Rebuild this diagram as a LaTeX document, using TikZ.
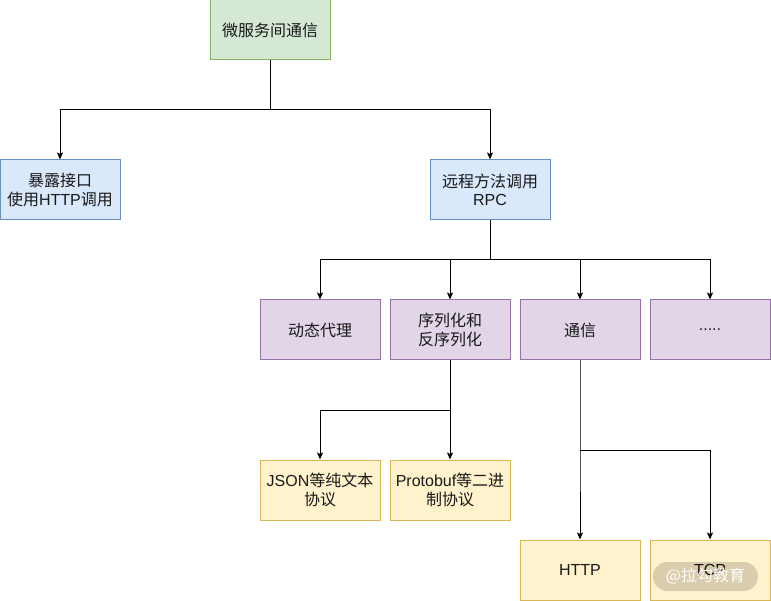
\documentclass[tikz,border=0pt]{standalone}
\usepackage{fontspec}
\setmainfont{Liberation Sans}
\newfontfamily\cjk{Noto Sans CJK SC}
\usetikzlibrary{arrows.meta}
\definecolor{gfill}{HTML}{D5E8D4}\definecolor{gline}{HTML}{82B366}
\definecolor{bfill}{HTML}{DAE8FC}\definecolor{bline}{HTML}{6C8EBF}
\definecolor{pfill}{HTML}{E1D5E7}\definecolor{pline}{HTML}{9673A6}
\definecolor{yfill}{HTML}{FFF2CC}\definecolor{yline}{HTML}{D6B656}
\tikzset{
  box/.style={draw, line width=1pt, minimum width=120pt, minimum height=60pt, inner sep=0pt, align=center, font=\fontsize{16}{18.5}\selectfont, text=black!90},
  gbox/.style={box, fill=gfill, draw=gline},
  bbox/.style={box, fill=bfill, draw=bline},
  pbox/.style={box, fill=pfill, draw=pline},
  ybox/.style={box, fill=yfill, draw=yline},
  conn/.style={line width=1pt, -{Stealth[length=7pt,width=6pt,inset=1.5pt]}},
}
\begin{document}
\begin{tikzpicture}[x=1pt,y=-1pt]
\useasboundingbox (0,0) rectangle (771,601);
\node[gbox] (top) at (270,30) {\cjk 微服务间通信};
\node[bbox] (http) at (60,190) {\cjk 暴露接口\\{\cjk 使用}HTTP{\cjk 调用}};
\node[bbox] (rpc) at (490,190) {\cjk 远程方法调用\\RPC};
\node[pbox] (proxy) at (320,330) {\cjk 动态代理};
\node[pbox] (ser) at (450,330) {\cjk 序列化和\\{\cjk 反序列化}};
\node[pbox] (comm) at (580,330) {\cjk 通信};
\node[pbox] (more) at (710,330) {.....};
\node[ybox] (json) at (320,490) {JSON{\cjk 等纯文本}\\{\cjk 协议}};
\node[ybox] (pb) at (450,490) {Protobuf{\cjk 等二进}\\{\cjk 制协议}};
\node[ybox] (h) at (580,570) {HTTP};
\node[ybox] (tcp) at (710,570) {TCP};
\coordinate (j1) at (270,110);
\coordinate (j2) at (490,260);
\coordinate (j3) at (450,410);
\coordinate (j4) at (580,450);
\draw[conn] (top.south) -- (j1) -| (http.north);
\draw[conn] (j1) -| (rpc.north);
\draw[conn] (rpc.south) -- (j2) -| (proxy.north);
\draw[conn] (j2) -| (ser.north);
\draw[conn] (j2) -| (comm.north);
\draw[conn] (j2) -| (more.north);
\draw[conn] (ser.south) -- (j3) -| (json.north);
\draw[conn] (j3) -- (pb.north);
\draw[conn] (comm.south) -- (j4) -- (h.north);
\draw[conn] (j4) -| (tcp.north);
\node[fill=black, fill opacity=0.15, text opacity=1, text=white, rounded corners=14.5pt, minimum width=105pt, minimum height=29pt, inner sep=0pt, font=\cjk\fontsize{16}{18}\selectfont] (wm) at (705.5,576.5) {@拉勾教育};
\end{tikzpicture}
\end{document}
